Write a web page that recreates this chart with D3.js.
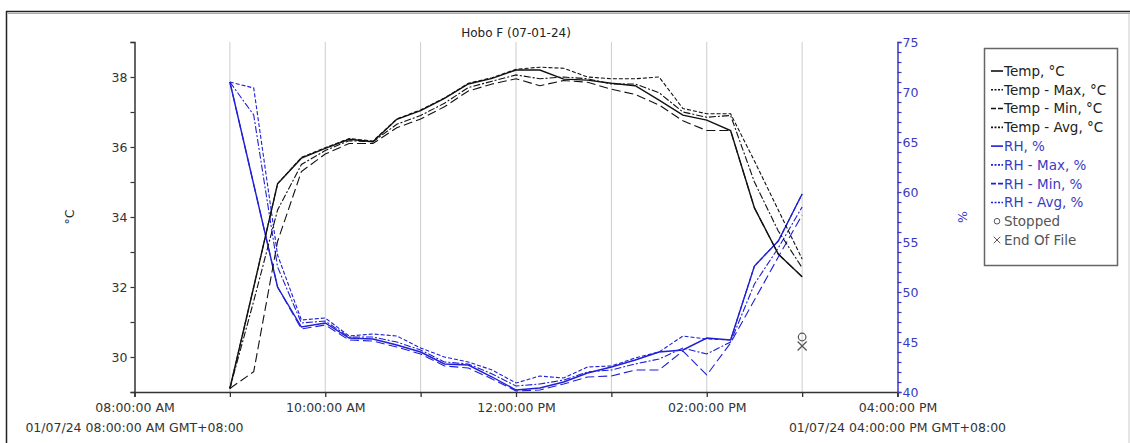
<!DOCTYPE html>
<html>
<head>
<meta charset="utf-8">
<script src="https://cdn.jsdelivr.net/npm/d3@7"></script>
<style>
	body { margin: 0; background: #fff; }
	svg { font-family: 'DejaVu Sans', sans-serif; }
</style>
</head>
<body>
<script>
var times = ['09:00','09:15','09:30','09:45','10:00','10:15','10:30','10:45','11:00','11:15','11:30','11:45',
	'12:00','12:15','12:30','12:45','13:00','13:15','13:30','13:45','14:00','14:15','14:30','14:45','15:00']

var tempC   = [29.1, 32.0, 34.95, 35.68, 35.96, 36.22, 36.15, 36.79, 37.04, 37.39, 37.8, 37.96,
	38.2, 38.2, 37.94, 37.91, 37.82, 37.75, 37.34, 36.91, 36.77, 36.47, 34.26, 32.94, 32.29]
var tempMax = [29.1, 32.0, 34.95, 35.7, 35.98, 36.24, 36.17, 36.8, 37.06, 37.4, 37.82, 37.98,
	38.22, 38.28, 38.25, 38.0, 37.95, 37.95, 38.0, 37.1, 36.95, 36.95, 35.6, 34.2, 32.8]
var tempMin = [29.1, 29.58, 33.3, 35.3, 35.8, 36.1, 36.1, 36.55, 36.8, 37.15, 37.6, 37.8,
	37.95, 37.75, 37.9, 37.85, 37.65, 37.5, 37.2, 36.75, 36.47, 36.47, 34.26, 32.94, 32.29]
var tempAvg = [29.1, 31.6, 34.2, 35.5, 35.9, 36.18, 36.15, 36.65, 36.9, 37.25, 37.7, 37.88,
	38.06, 37.95, 38.0, 37.95, 37.8, 37.8, 37.55, 37.0, 36.85, 36.9, 35.0, 33.6, 32.55]

var rh    = [71.0, 60.75, 50.5, 46.5, 46.9, 45.4, 45.3, 44.7, 44.0, 42.8, 42.7, 41.5,
	40.2, 40.4, 41.0, 41.9, 42.5, 43.2, 44.0, 44.2, 45.4, 45.2, 52.6, 55.1, 59.8]
var rhMax = [71.0, 70.4, 53.7, 47.2, 47.4, 45.6, 45.8, 45.6, 44.4, 43.5, 43.0, 42.2,
	40.9, 41.6, 41.4, 42.5, 42.6, 43.4, 44.0, 45.6, 45.3, 45.2, 52.6, 55.1, 59.8]
var rhMin = [71.0, 60.75, 50.5, 46.3, 46.7, 45.2, 45.1, 44.5, 43.8, 42.6, 42.4, 41.3,
	40.1, 40.2, 40.8, 41.5, 41.6, 42.2, 42.2, 44.1, 41.7, 44.9, 49.2, 53.5, 57.7]
var rhAvg = [71.0, 67.7, 52.5, 46.9, 47.1, 45.5, 45.5, 45.0, 44.2, 43.0, 42.8, 41.8,
	40.6, 40.8, 41.2, 42.0, 42.2, 42.8, 43.3, 44.4, 43.8, 45.0, 50.8, 54.4, 58.5]

var stopped = {time: '15:00', rh: 45.5}
var endOfFile = {time: '15:00', rh: 44.6}

var title = 'Hobo F (07-01-24)'
var xDomain = ['08:00', '16:00']
var startLabel = '01/07/24 08:00:00 AM GMT+08:00'
var endLabel = '01/07/24 04:00:00 PM GMT+08:00'
var legendLabels = ['Temp, °C', 'Temp - Max, °C', 'Temp - Min, °C', 'Temp - Avg, °C',
	'RH, %', 'RH - Max, %', 'RH - Min, %', 'RH - Avg, %', 'Stopped', 'End Of File']

var parseTime = d3.timeParse('%H:%M')
var fmtTick = d3.timeFormat('%I:%M:%S %p')

var black = '#111', blue = '#1f1fd6', blueText = '#3a3ac4'
var dashes = {solid: null, max: '4,2', min: '9,4', avg: '7,2,2,2'}

var series = [
	{name: 'temp', vals: tempC, axis: 'T', color: black, dash: dashes.solid},
	{name: 'tempMax', vals: tempMax, axis: 'T', color: black, dash: dashes.max},
	{name: 'tempMin', vals: tempMin, axis: 'T', color: black, dash: dashes.min},
	{name: 'tempAvg', vals: tempAvg, axis: 'T', color: black, dash: dashes.avg},
	{name: 'rh', vals: rh, axis: 'R', color: blue, dash: dashes.solid},
	{name: 'rhMax', vals: rhMax, axis: 'R', color: blue, dash: dashes.max},
	{name: 'rhMin', vals: rhMin, axis: 'R', color: blue, dash: dashes.min},
	{name: 'rhAvg', vals: rhAvg, axis: 'R', color: blue, dash: dashes.avg}
]

var margin = {left: 134.5, right: 897.5, top: 42, bottom: 392}

var x = d3.scaleTime()
	.domain(xDomain.map(parseTime))
	.range([margin.left, margin.right])

var yT = d3.scaleLinear().domain([29, 39]).range([margin.bottom, margin.top])
var yR = d3.scaleLinear().domain([40, 75]).range([margin.bottom, margin.top])

var svg = d3.select('body').append('svg').attr('width', 1130).attr('height', 443)

// frame
svg.append('line').attr('x1', 6).attr('x2', 1130).attr('y1', 11.5).attr('y2', 11.5).attr('stroke', '#222').attr('stroke-width', 1.5)
svg.append('line').attr('x1', 8).attr('x2', 1130).attr('y1', 13.5).attr('y2', 13.5).attr('stroke', '#aaa')
svg.append('line').attr('x1', 6.5).attr('x2', 6.5).attr('y1', 11).attr('y2', 443).attr('stroke', '#222').attr('stroke-width', 1.5)
svg.append('line').attr('x1', 1129).attr('x2', 1129).attr('y1', 14).attr('y2', 443).attr('stroke', '#ccc')

svg.append('text')
	.attr('x', 516).attr('y', 37)
	.attr('text-anchor', 'middle')
	.attr('font-size', 12).attr('fill', '#222')
	.text(title)

// hour grid lines
var hours = d3.timeHour.range(parseTime('09:00'), parseTime('16:00'))
svg.append('g').selectAll('line').data(hours).enter().append('line')
	.attr('x1', (d) => x(d)).attr('x2', (d) => x(d))
	.attr('y1', margin.top).attr('y2', margin.bottom)
	.attr('stroke', '#ccc').attr('stroke-width', 1)

var xAxis = d3.axisBottom(x)
	.ticks(d3.timeHour.every(1))
	.tickSize(5)
	.tickFormat((d) => d.getHours() % 2 === 0 ? fmtTick(d) : '')

var gx = svg.append('g')
	.attr('transform', 'translate(0,' + margin.bottom + ')')
	.call(xAxis)
gx.select('.domain').attr('stroke', '#333').attr('stroke-width', 1.6)
gx.selectAll('.tick line').attr('stroke', '#333').attr('stroke-width', 1.3)
gx.selectAll('.tick text').attr('font-size', 12.5).attr('fill', '#333').attr('font-family', 'DejaVu Sans').attr('y', 11)

var yAxisL = d3.axisLeft(yT)
	.tickValues(d3.range(29, 40))
	.tickSize(4)
	.tickFormat((d) => d % 2 === 0 ? d : '')
var gl = svg.append('g')
	.attr('transform', 'translate(' + margin.left + ',0)')
	.call(yAxisL)
gl.select('.domain').attr('stroke', '#333').attr('stroke-width', 1.5)
gl.selectAll('.tick line').attr('stroke', '#333').attr('stroke-width', 1.2)
gl.selectAll('.tick text').attr('font-size', 12.5).attr('fill', '#333').attr('font-family', 'DejaVu Sans').attr('x', -7)

var yAxisR = d3.axisRight(yR)
	.tickValues(d3.range(40, 76))
	.tickSize(4)
	.tickFormat((d) => d % 5 === 0 ? d : '')
var gr = svg.append('g')
	.attr('transform', 'translate(' + margin.right + ',0)')
	.call(yAxisR)
gr.select('.domain').attr('stroke', blueText).attr('stroke-width', 1.5)
gr.selectAll('.tick line').attr('stroke', blueText).attr('stroke-width', 1.2)
gr.selectAll('.tick text').attr('font-size', 12.5).attr('fill', blueText).attr('font-family', 'DejaVu Sans').attr('x', 5)

// axis titles
svg.append('text')
	.attr('transform', 'translate(74,217) rotate(-90)')
	.attr('text-anchor', 'middle')
	.attr('font-size', 12.5).attr('fill', '#222')
	.text('°C')
svg.append('text')
	.attr('transform', 'translate(967,217) rotate(-90)')
	.attr('text-anchor', 'middle')
	.attr('font-size', 12.5).attr('fill', blueText)
	.text('%')

svg.append('text')
	.attr('x', x(parseTime(xDomain[0]))).attr('y', 432)
	.attr('text-anchor', 'middle')
	.attr('font-size', 12.5).attr('fill', '#333')
	.text(startLabel)
svg.append('text')
	.attr('x', x(parseTime(xDomain[1]))).attr('y', 432)
	.attr('text-anchor', 'middle')
	.attr('font-size', 12.5).attr('fill', '#333')
	.text(endLabel)

// data lines
var lineT = d3.line()
	.x((d, i) => x(parseTime(times[i])))
	.y((d) => yT(d))
var lineR = d3.line()
	.x((d, i) => x(parseTime(times[i])))
	.y((d) => yR(d))

var chartGroup = svg.append('g')
series.slice().reverse().forEach((s) => {
	chartGroup.append('path')
		.attr('d', s.axis === 'T' ? lineT(s.vals) : lineR(s.vals))
		.attr('fill', 'none')
		.attr('stroke', s.color)
		.attr('stroke-width', s.dash ? 1.1 : 1.4)
		.attr('stroke-dasharray', s.dash)
})

// stopped / end of file markers
chartGroup.append('circle')
	.attr('cx', x(parseTime(stopped.time))).attr('cy', yR(stopped.rh))
	.attr('r', 3.8).attr('fill', 'none').attr('stroke', '#555').attr('stroke-width', 1.2)
chartGroup.append('path')
	.attr('transform', 'translate(' + x(parseTime(endOfFile.time)) + ',' + yR(endOfFile.rh) + ')')
	.attr('d', d3.symbol().type(d3.symbolX).size(55))
	.attr('fill', 'none').attr('stroke', '#555').attr('stroke-width', 1.2)

// legend
var legend = svg.append('g')
legend.append('rect')
	.attr('x', 984.5).attr('y', 48.5).attr('width', 133).attr('height', 217)
	.attr('fill', '#fff').attr('stroke', '#666').attr('stroke-width', 1.5)

var legendY = d3.scalePoint().domain(legendLabels).range([71, 240])

legendLabels.forEach((lab, i) => {
	var yy = legendY(lab)
	var col = i < 4 ? black : (i < 8 ? blue : '#555')
	if (i < 8) {
		legend.append('line')
			.attr('x1', 991).attr('x2', 1003).attr('y1', yy).attr('y2', yy)
			.attr('stroke', col).attr('stroke-width', 1.6)
			.attr('stroke-dasharray', series[i].dash ? (i % 4 === 2 ? '5,2' : '2,1.5') : null)
	} else if (i === 8) {
		legend.append('circle').attr('cx', 997).attr('cy', yy).attr('r', 2.8)
			.attr('fill', 'none').attr('stroke', col)
	} else {
		legend.append('path').attr('transform', 'translate(997,' + yy + ')')
			.attr('d', d3.symbol().type(d3.symbolX).size(30))
			.attr('fill', 'none').attr('stroke', col)
	}
	legend.append('text')
		.attr('x', 1004).attr('y', yy).attr('dy', '0.36em')
		.attr('font-size', 13.5)
		.attr('fill', i < 4 ? '#222' : (i < 8 ? blueText : '#555'))
		.text(lab)
})
</script>
</body>
</html>
